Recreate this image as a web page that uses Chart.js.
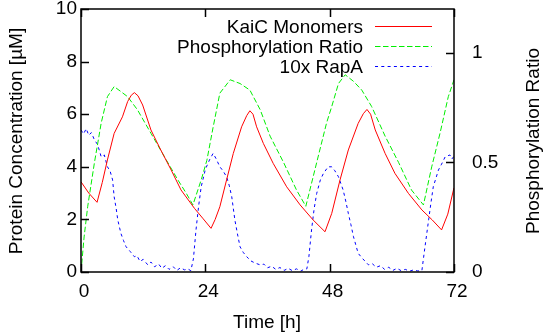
<!DOCTYPE html>
<html lang="en">
<head>
<meta charset="UTF-8">
<title>KaiC oscillation</title>
<style>
  body { margin: 0; background: #fff; }
  #wrap { width: 545px; height: 335px; }
</style>
</head>
<body>
<div id="wrap"><canvas id="chart" width="545" height="335"></canvas></div>

<script src="https://cdn.jsdelivr.net/npm/chart.js"></script>
<script>
// time axis ticks (hours)
const timeTicks = [0, 24, 48, 72];
const concTicks = [0, 2, 4, 6, 8, 10];
const ratioTicks = [0, 0.5, 1];

// KaiC monomers [uM]
const kaicTime = [0, 1.5, 3.1, 4.1, 5.1, 6.4, 8.0, 9.0, 9.7, 10.3, 11.0, 11.9, 13.5, 15.4, 17.4, 19.3, 21.9, 23.6, 25.1,
  25.9, 26.8, 28.1, 29.4, 31.0, 32.0, 32.6, 33.2, 33.9, 35.2, 37.1, 39.7, 42.3, 44.8, 47.1,
  48.4, 50.0, 51.6, 53.5, 54.5, 55.2, 55.9, 56.8, 58.7, 60.6, 63.2, 65.8, 67.8, 69.6, 70.8, 71.9, 72];
const kaicConc = [3.43, 3.0, 2.65, 3.4, 4.26, 5.27, 5.9, 6.48, 6.72, 6.82, 6.7, 6.35, 5.4, 4.64, 3.88, 3.12, 2.42, 2.02, 1.66,
  2.0, 2.48, 3.5, 4.51, 5.52, 5.95, 6.13, 6.0, 5.52, 4.89, 4.13, 3.24, 2.55, 1.98, 1.53,
  2.23, 3.5, 4.64, 5.65, 6.02, 6.18, 6.0, 5.4, 4.51, 3.75, 2.99, 2.36, 1.98, 1.6, 2.2, 3.12, 3.2];

// phosphorylation ratio (right axis)
const phosTime = [0, 0.6, 1.3, 2.6, 3.9, 5.1, 6.4, 7.6, 9.0, 10.9, 13.5, 16.1, 18.7, 20.3, 21.6, 23.2, 24.3, 25.5,
  26.8, 28.8, 30.7, 32.6, 34.6, 36.5, 39.1, 41.6, 43.4, 45.5, 47.4, 48.4, 49.7, 51.0,
  52.6, 54.2, 56.1, 58.7, 61.3, 63.8, 66.1, 67.7, 69.3, 70.9, 72];
const phosRatio = [0, 0.16, 0.30, 0.50, 0.68, 0.80, 0.846, 0.825, 0.80, 0.74, 0.633, 0.526, 0.42, 0.36, 0.306, 0.42, 0.51, 0.66,
  0.816, 0.877, 0.86, 0.83, 0.74, 0.62, 0.50, 0.374, 0.30, 0.50, 0.68, 0.755, 0.86, 0.90,
  0.87, 0.83, 0.755, 0.62, 0.50, 0.374, 0.306, 0.48, 0.633, 0.80, 0.877];

// 10x RapA [uM]
const rapaTime = [0, 0.5, 1.0, 1.5, 2.0, 2.6, 3.2, 3.9, 4.5, 5.1, 5.6, 6.1, 6.4, 6.8, 7.1, 7.7, 8.2, 8.7, 9.5, 10.3, 10.8,
  11.4, 12.0, 12.9, 13.5, 14.2, 15.0, 15.6, 16.3, 17.0, 17.8, 18.5, 19.2, 20.0, 20.6, 21.2,
  21.7, 22.2, 22.7, 23.2, 24.0, 24.8, 25.5, 26.1, 26.8, 27.4, 28.1, 28.6, 29.1, 29.7, 30.2, 30.7, 31.3, 32.0,
  32.8, 33.6, 34.6, 35.3, 36.0, 36.8, 37.6, 38.4, 39.2, 40.0, 40.8, 41.6, 42.4, 43.0, 43.6,
  44.0, 44.5, 45.0, 45.5, 46.2, 46.8, 47.7, 48.4, 49.0, 49.7, 50.6, 51.1, 51.6, 52.1, 52.6, 53.5, 54.4,
  55.5, 56.2, 57.0, 57.8, 58.6, 59.4, 60.2, 61.0, 61.8, 62.6, 63.4, 64.2, 65.0, 65.8,
  66.4, 67.1, 67.6, 68.0, 69.0, 69.6, 70.3, 71.2, 71.6, 72];
const rapaConc = [5.4, 5.25, 5.45, 5.2, 5.3, 5.02, 4.85, 4.38, 4.45, 4.0, 3.85, 3.5, 2.86, 2.4, 1.98, 1.47, 1.2, 0.96, 0.78, 0.58, 0.62,
  0.4, 0.48, 0.27, 0.38, 0.2, 0.3, 0.14, 0.24, 0.1, 0.2, 0.06, 0.16, 0.08, 0.12, 0.05,
  0.5, 1.6, 2.5, 3.24, 3.9, 4.26, 4.51, 4.3, 4.0, 3.85, 3.62, 3.3, 2.86, 1.98, 1.45, 0.96, 0.75, 0.58,
  0.42, 0.34, 0.27, 0.3, 0.16, 0.22, 0.1, 0.17, 0.06, 0.14, 0.05, 0.12, 0.03, 0.1, 0.12,
  0.6, 1.6, 2.4, 2.99, 3.5, 3.75, 4.0, 4.0, 3.85, 3.62, 3.12, 2.7, 2.23, 1.8, 1.34, 0.71, 0.5,
  0.27, 0.32, 0.18, 0.24, 0.1, 0.18, 0.06, 0.14, 0.05, 0.1, 0.03, 0.08, 0.04, 0.05,
  0.96, 1.98, 2.7, 3.24, 3.88, 4.1, 4.38, 4.45, 4.3, 4.4];

const FONT = '"Liberation Sans", Arial, sans-serif';
// plot box inside the 545x335 canvas
const AREA = { left: 81, top: 9, right: 454, bottom: 272 };

function toPoints(xs, ys) {
  return xs.map(function (x, i) { return { x: x, y: ys[i] }; });
}

const legendItems = ['KaiC Monomers', 'Phosphorylation Ratio', '10x RapA'];

// pin the plot box to where the reference has it
const fixedArea = {
  id: 'fixedArea',
  afterLayout(chart) {
    const ca = chart.chartArea;
    ca.left = AREA.left; ca.top = AREA.top; ca.right = AREA.right; ca.bottom = AREA.bottom;
    ca.width = AREA.right - AREA.left; ca.height = AREA.bottom - AREA.top;
    const put = function (s, l, t, r, b) {
      s.left = l; s.top = t; s.right = r; s.bottom = b;
      s.width = r - l; s.height = b - t;
      s.configure();
    };
    put(chart.scales.x, AREA.left, AREA.bottom, AREA.right, chart.height);
    put(chart.scales.y, 0, AREA.top, AREA.left, AREA.bottom);
    put(chart.scales.y1, AREA.right, AREA.top, chart.width, AREA.bottom);
  }
};

// ticks pointing into the plot, box border, legend and axis titles
const decorations = {
  id: 'decorations',
  afterDraw(chart) {
    const ctx = chart.ctx;
    const a = chart.chartArea;
    const sx = chart.scales.x, sy = chart.scales.y, sr = chart.scales.y1;
    const tl = 8;
    ctx.save();
    ctx.strokeStyle = '#000';
    ctx.lineWidth = 1.5;
    ctx.setLineDash([]);
    ctx.beginPath();
    timeTicks.forEach(function (t) {
      const px = Math.round(sx.getPixelForValue(t)) + 0.5;
      ctx.moveTo(px, a.bottom); ctx.lineTo(px, a.bottom - tl);
      ctx.moveTo(px, a.top); ctx.lineTo(px, a.top + tl);
    });
    concTicks.forEach(function (v) {
      const py = Math.round(sy.getPixelForValue(v)) + 0.5;
      ctx.moveTo(a.left, py); ctx.lineTo(a.left + tl, py);
    });
    ratioTicks.forEach(function (v) {
      const py = Math.round(sr.getPixelForValue(v)) + 0.5;
      ctx.moveTo(a.right, py); ctx.lineTo(a.right - tl, py);
    });
    ctx.stroke();
    ctx.strokeRect(a.left, a.top, a.right - a.left, a.bottom - a.top);

    // legend: text right aligned, sample line on the right
    ctx.font = '19px ' + FONT;
    ctx.fillStyle = '#000';
    ctx.textAlign = 'right';
    ctx.textBaseline = 'middle';
    legendItems.forEach(function (label, i) {
      const ds = chart.data.datasets[i];
      const y = 26.5 + i * 20;
      ctx.fillText(label, 363, y + 1);
      ctx.beginPath();
      ctx.strokeStyle = ds.borderColor;
      ctx.lineWidth = 1;
      ctx.setLineDash(ds.borderDash || []);
      ctx.moveTo(375, y);
      ctx.lineTo(432, y);
      ctx.stroke();
    });
    ctx.setLineDash([]);

    // axis titles
    ctx.textAlign = 'center';
    ctx.textBaseline = 'alphabetic';
    ctx.fillText('Time [h]', 267, 328);
    ctx.save();
    ctx.translate(22, 141);
    ctx.rotate(-Math.PI / 2);
    ctx.fillText('Protein Concentration [µM]', 0, 0);
    ctx.restore();
    ctx.save();
    ctx.translate(539, 141);
    ctx.rotate(-Math.PI / 2);
    ctx.fillText('Phosphorylation Ratio', 0, 0);
    ctx.restore();
    ctx.restore();
  }
};

new Chart(document.getElementById('chart'), {
  type: 'line',
  data: {
    datasets: [{
      label: 'KaiC Monomers',
      data: toPoints(kaicTime, kaicConc),
      borderColor: '#ff0000',
      borderWidth: 1,
      yAxisID: 'y'
    }, {
      label: 'Phosphorylation Ratio',
      data: toPoints(phosTime, phosRatio),
      borderColor: '#00ee00',
      borderWidth: 1,
      borderDash: [5.5, 2.5],
      yAxisID: 'y1'
    }, {
      label: '10x RapA',
      data: toPoints(rapaTime, rapaConc),
      borderColor: '#0000ff',
      borderWidth: 1,
      borderDash: [3, 3.3],
      yAxisID: 'y'
    }]
  },
  options: {
    responsive: false,
    devicePixelRatio: 1,
    animation: false,
    events: [],
    elements: { point: { radius: 0 }, line: { tension: 0, fill: false } },
    layout: { autoPadding: false, padding: 0 },
    plugins: { legend: { display: false }, tooltip: { enabled: false } },
    scales: {
      x: {
        type: 'linear',
        min: 0, max: 72,
        grid: { display: false, drawTicks: false },
        border: { display: false },
        afterBuildTicks(s) { s.ticks = timeTicks.map(function (v) { return { value: v }; }); },
        ticks: { color: '#000', padding: 8, labelOffset: 3, maxRotation: 0, font: { size: 19, family: FONT } }
      },
      y: {
        position: 'left',
        min: 0, max: 10,
        grid: { display: false, drawTicks: false },
        border: { display: false },
        afterBuildTicks(s) { s.ticks = concTicks.map(function (v) { return { value: v }; }); },
        ticks: { color: '#000', padding: 4, font: { size: 19, family: FONT } }
      },
      y1: {
        position: 'right',
        min: 0, max: 1.2,
        grid: { display: false, drawTicks: false },
        border: { display: false },
        afterBuildTicks(s) { s.ticks = ratioTicks.map(function (v) { return { value: v }; }); },
        ticks: {
          color: '#000', padding: 18, font: { size: 19, family: FONT },
          callback: function (v) { return String(v); }
        }
      }
    }
  },
  plugins: [fixedArea, decorations]
});
</script>
</body>
</html>
